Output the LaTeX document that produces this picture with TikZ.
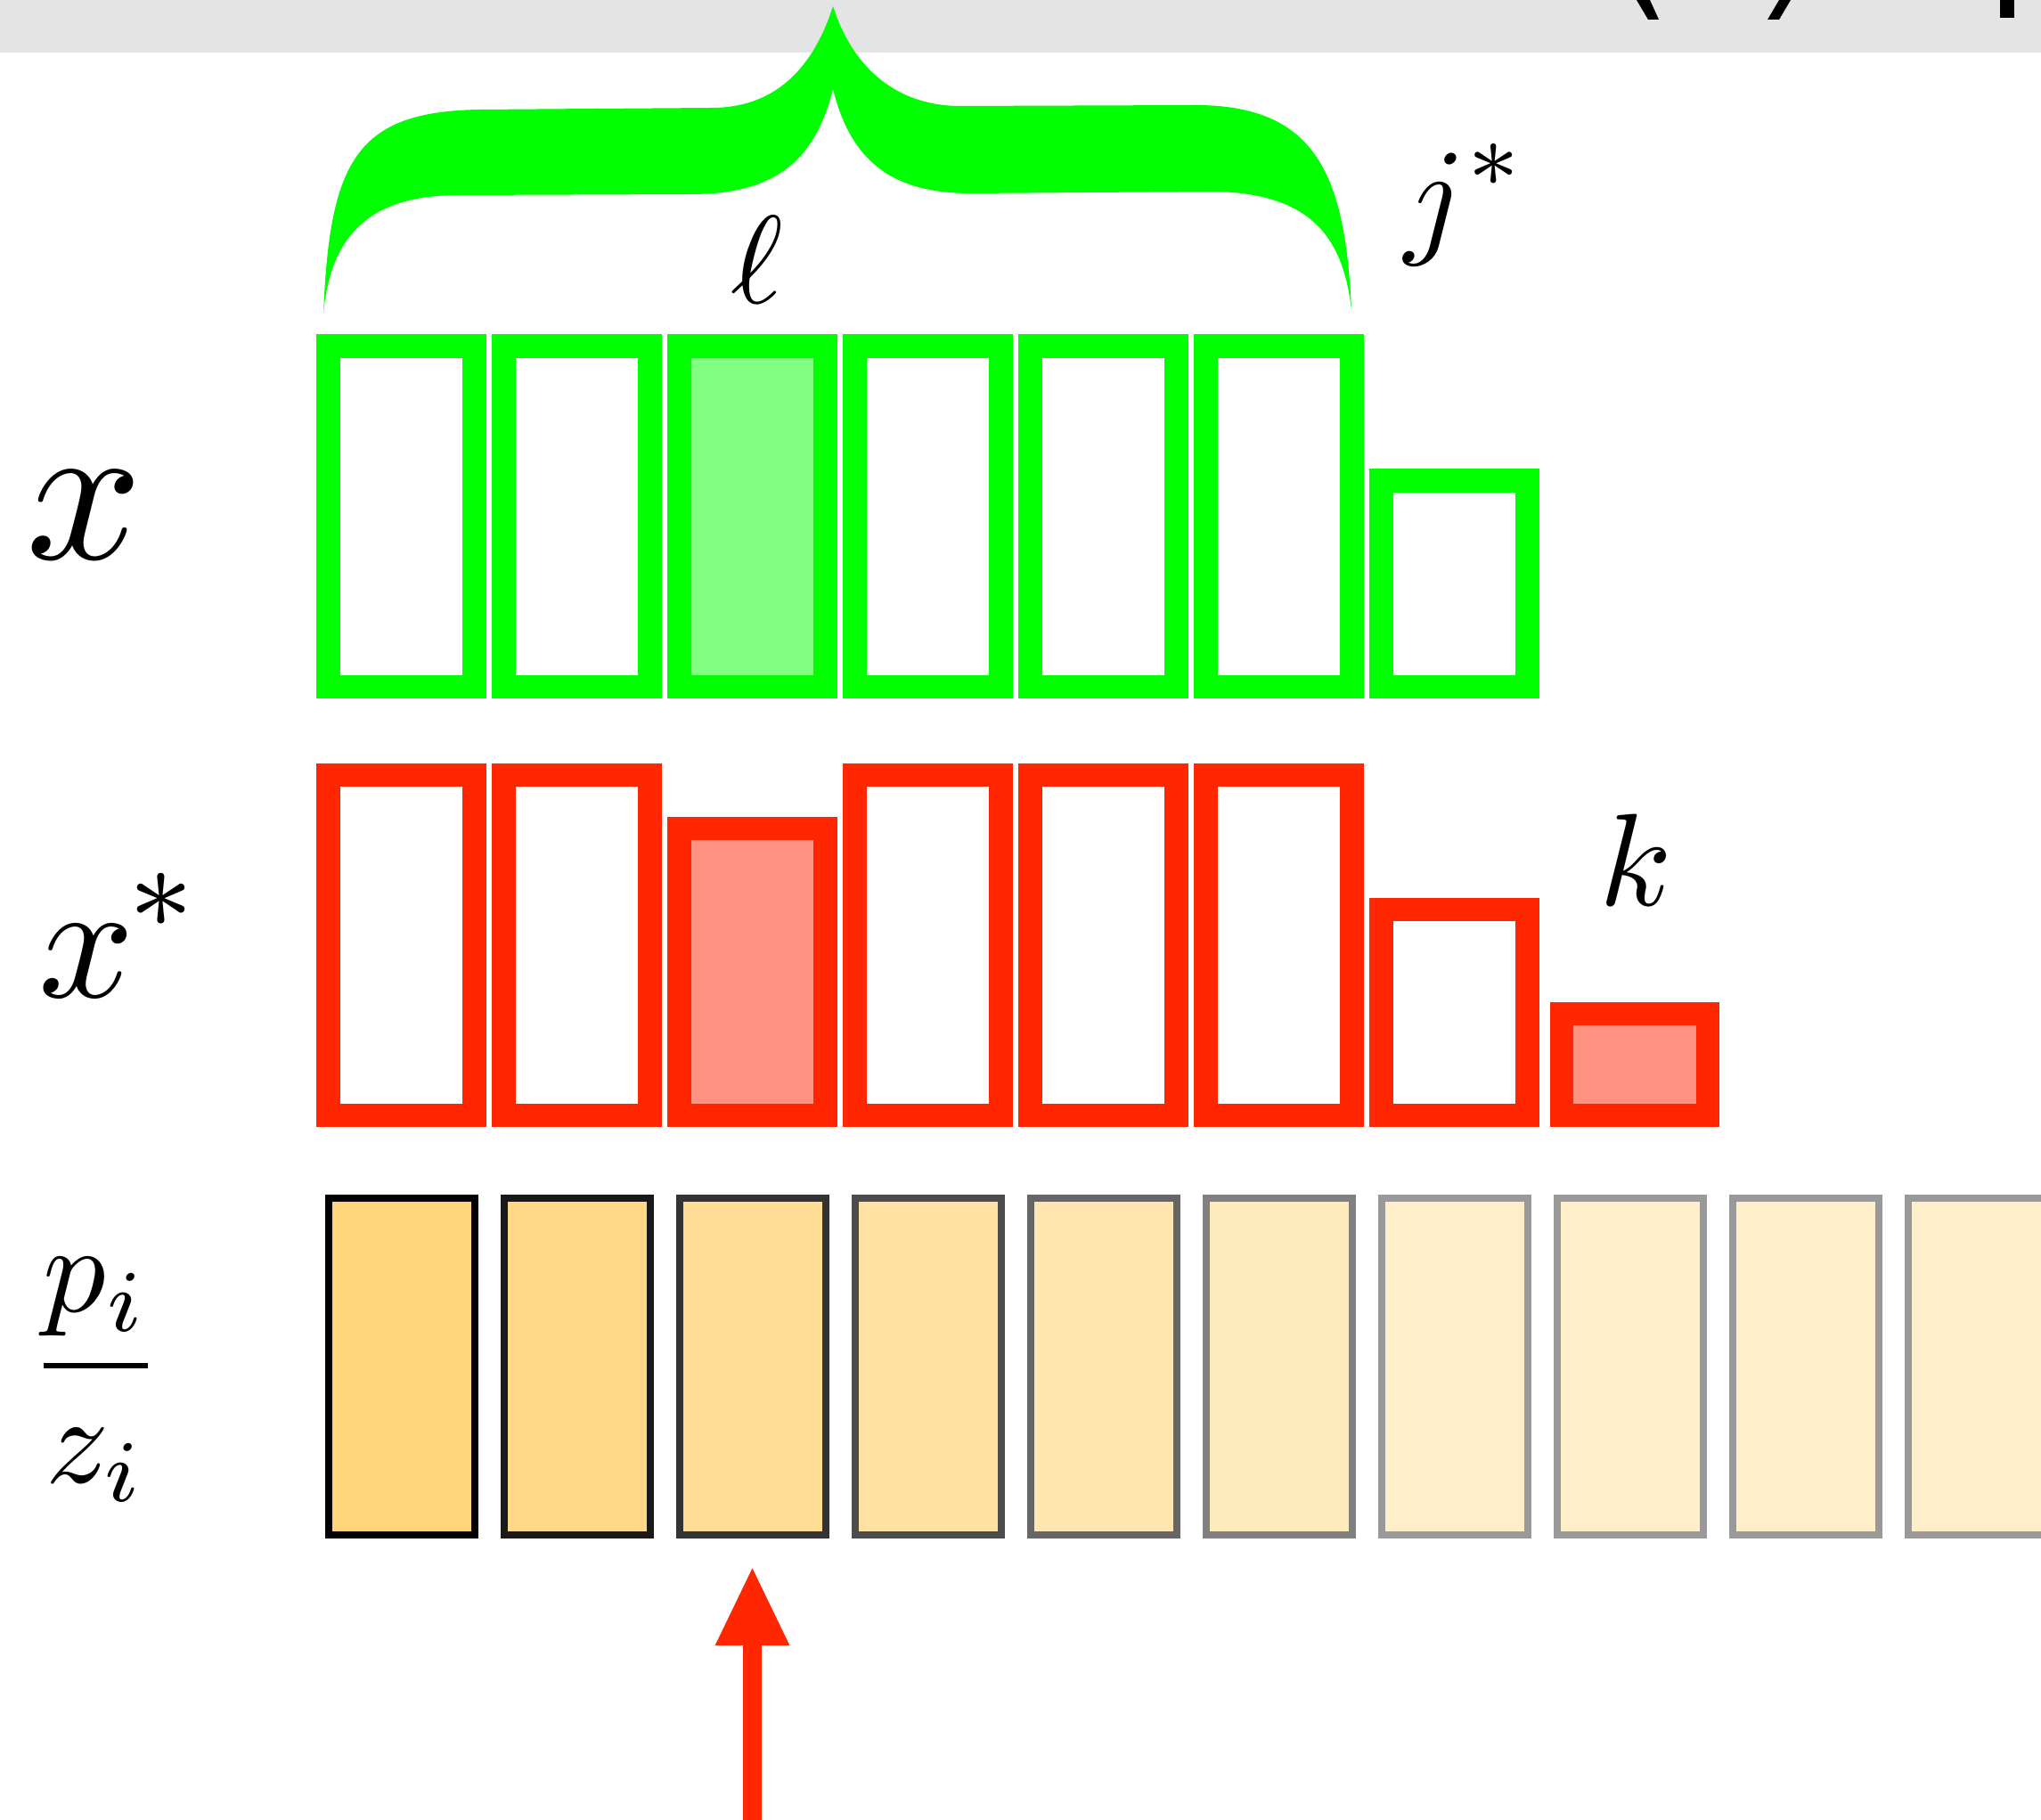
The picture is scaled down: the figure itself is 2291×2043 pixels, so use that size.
\documentclass[tikz,border=0pt]{standalone}
\usepackage{amsmath}
\usetikzlibrary{arrows.meta,positioning}
\definecolor{selgreen}{RGB}{0,255,0}
\definecolor{optred}{RGB}{255,38,0}
\definecolor{ratiofill}{RGB}{255,212,122}
\definecolor{bandgray}{RGB}{228,228,228}

\begin{document}
\begin{tikzpicture}[x=0.1mm,y=-0.1mm,
  cell/.style={minimum width=16.4mm,anchor=south,inner sep=0pt},
  xcell/.style={cell,draw=selgreen,line width=2.65mm},
  ocell/.style={cell,draw=optred,line width=2.65mm},
  pcell/.style={cell,line width=0.8mm,minimum height=37.8mm},
  lbl/.style={anchor=base west,inner sep=0pt},
  ptr/.style={-{Triangle[length=8.9mm,width=7.7mm]},optred,line width=2.1mm}]

\useasboundingbox (0,0) rectangle (2291,2043);
\def\pitch{197}

% --- header strip, with the feet of the clipped title glyphs
\fill[bandgray] (0,0) rectangle (2291,59);
\fill (1837,0) -- (1852,0) -- (1862,22) -- (1850,22) -- cycle;
\fill (1997,0) -- (2010,0) -- (1997,22) -- (1984,22) -- cycle;
\fill (2245,0) rectangle (2261,20);

% --- row x
\foreach \i/\h/\f in {1/38.2/white,2/38.2/white,3/38.2/selgreen!50,4/38.2/white,
                      5/38.2/white,6/38.2/white,7/23.1/white}
  \node[xcell,minimum height=\h mm,fill=\f] (g\i) at ({450.5+(\i-1)*\pitch},784) {};
% --- row x*
\foreach \i/\h/\f in {1/38.2/white,2/38.2/white,3/32.2/optred!50,4/38.2/white,
                      5/38.2/white,6/38.2/white,7/23.1/white}
  \node[ocell,minimum height=\h mm,fill=\f] (r\i) at ({450.5+(\i-1)*\pitch},1265) {};
\node[ocell,minimum height=11.4mm,fill=optred!50] (r8) at (1835,1265) {};
% --- row p_i/z_i
\foreach \i/\lv in {1/100,2/90,3/80,4/70,5/60,6/50,7/40,8/40,9/40,10/40}
  \node[pcell,draw=black!\lv,fill=ratiofill!\lv!white] (p\i) at ({450.5+(\i-1)*\pitch},1727) {};

% --- brace over the first six cells
\fill[selgreen] (363,352) .. controls (370,180) and (400,125) .. (539,123)
  -- (799,121) .. controls (875,121) and (915,70) .. (935,7)
  .. controls (955,70) and (1000,117) .. (1074,119)
  -- (1342,118) .. controls (1480,118) and (1510,200) .. (1517,348)
  .. controls (1508,270) and (1475,215) .. (1357,215)
  -- (1090,217) .. controls (1000,217) and (955,180) .. (935,100)
  .. controls (915,180) and (870,218) .. (776,218)
  -- (516,219) .. controls (430,219) and (372,250) .. (363,352) -- cycle;

% --- labels
\node[lbl,scale=6.5] (xlab) at (25,628) {$x$};
\node[lbl,scale=5.35] (xslab) at (40,1119) {$\displaystyle x^{\mkern-1mu*}$};
\node[scale=4] (ratio) at (107.5,1549) {$\dfrac{p_i}{z_i}$};
\node[lbl,scale=4] (ell) at (818,341) {$\ell$};
\node[lbl,scale=4.2] (jstar) at (1574,270) {$\displaystyle j^*$};
\node[lbl,scale=4.2] (klab) at (1793,1016) {$k$};

% --- pointer
\coordinate (arrtail) at (844.5,2100);
\draw[ptr] (arrtail) -- ([yshift=-3.1mm]p3.south);
\end{tikzpicture}
\end{document}
